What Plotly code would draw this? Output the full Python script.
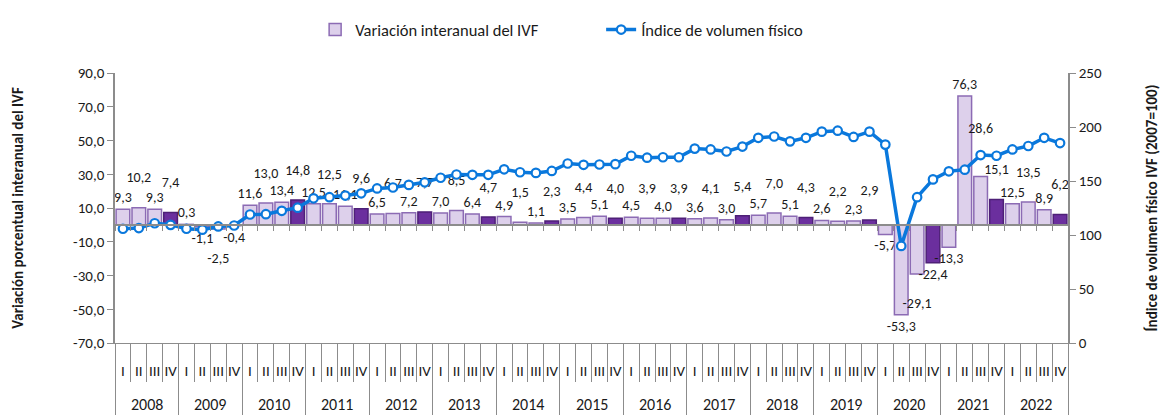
import plotly.graph_objects as go

years = [str(y) for y in range(2008, 2023)]
quarters = ["I", "II", "III", "IV"]

variacion = [
    9.3, 10.2, 9.3, 7.4,
    0.3, -1.1, -2.5, -0.4,
    11.6, 13.0, 13.4, 14.8,
    12.5, 12.5, 11.1, 9.6,
    6.5, 6.7, 7.2, 7.7,
    7.0, 8.5, 6.4, 4.7,
    4.9, 1.5, 1.1, 2.3,
    3.5, 4.4, 5.1, 4.0,
    4.5, 3.9, 4.0, 3.9,
    3.6, 4.1, 3.0, 5.4,
    5.7, 7.0, 5.1, 4.3,
    2.6, 2.2, 2.3, 2.9,
    -5.7, -53.3, -29.1, -22.4,
    -13.3, 76.3, 28.6, 15.1,
    12.5, 13.5, 8.9, 6.2,
]

indice = [
    105.8, 106.4, 110.9, 109.4,
    105.8, 104.9, 107.9, 108.8,
    119.0, 119.3, 122.4, 125.3,
    134.0, 135.0, 136.5, 138.6,
    143.1, 144.0, 146.4, 148.8,
    153.0, 156.0, 155.7, 155.7,
    160.8, 158.1, 157.5, 159.3,
    166.2, 165.0, 165.3, 165.6,
    173.4, 171.6, 172.0, 172.0,
    180.0, 179.2, 177.3, 181.9,
    190.0, 191.2, 186.7, 190.0,
    195.7, 196.6, 190.8, 195.7,
    183.7, 89.9, 135.0, 151.5,
    159.0, 160.5, 174.0, 173.4,
    179.2, 182.4, 190.0, 185.1,
]

left_ticks = [90, 70, 50, 30, 10, -10, -30, -50, -70]
right_ticks = [0, 50, 100, 150, 200, 250]

FONT = "Carlito, Calibri, Lato, sans-serif"

n = len(variacion)
nq = len(quarters)
xpos = list(range(n))
x_q = [q for _ in years for q in quarters]

light_fill, light_line = "#DDD0EB", "#8C6BB4"
dark_fill, dark_line = "#6B2F9E", "#4E2077"
fills = [dark_fill if q == "IV" else light_fill for q in x_q]
lines = [dark_line if q == "IV" else light_line for q in x_q]

# staggered data labels: some labels are pushed further out to limit overlaps
labels = []
for i, v in enumerate(variacion):
    t = f"{v:.1f}".replace(".", ",")
    nxt = variacion[i + 1] if i + 1 < n else 0
    if 20 < v < 50:
        t = t + "<br> <br> "
    elif 0 < v < 50 and i % 2 == 1:
        t = t + "<br> "
    elif -50 < v < 0 and i % 2 == 0 and v < nxt < 0:
        t = " <br>" + t
    labels.append(t)

fig = go.Figure()
fig.add_trace(go.Bar(
    x=xpos, y=variacion,
    name="Variación interanual del IVF",
    marker=dict(color=fills, line=dict(color=lines, width=1.5)),
    text=labels, textposition="outside", cliponaxis=False,
    constraintext="none",
    textfont=dict(family=FONT, size=14, color="#1a1a1a"),
    yaxis="y",
))
fig.add_trace(go.Scatter(
    x=xpos, y=indice,
    name="Índice de volumen físico",
    mode="lines+markers",
    line=dict(color="#0A78DC", width=3.5),
    marker=dict(symbol="circle", size=8.5, color="white",
                line=dict(color="#0A78DC", width=2.2)),
    yaxis="y2",
))
# helper traces so that the overlay axes (tick rows) are drawn
for ax in ("x2", "x3", "x4"):
    fig.add_trace(go.Scatter(x=[None], y=[None], xaxis=ax, yaxis="y",
                             showlegend=False, hoverinfo="skip"))

bounds = [i - 0.5 for i in range(n + 1)]
year_bounds = [i * nq - 0.5 for i in range(len(years) + 1)]
axis_gray = "#8C8C8C"
xr = [-0.5, n - 0.5]

# year labels under the quarter labels
for k, y in enumerate(years):
    fig.add_annotation(x=k * nq + (nq - 1) / 2, y=-0.228, xref="x", yref="paper",
                       text=y, showarrow=False, yanchor="middle",
                       font=dict(family=FONT, size=16, color="#1a1a1a"))

fig.update_layout(
    width=1161, height=415,
    margin=dict(l=115, r=93, t=66, b=72),
    paper_bgcolor="white", plot_bgcolor="white",
    font=dict(family=FONT, size=14, color="#1a1a1a"),
    bargap=0.14,
    showlegend=True,
    legend=dict(orientation="h", x=0.21, xanchor="left", y=1.16, yanchor="middle",
                entrywidth=241, entrywidthmode="pixels",
                font=dict(family=FONT, size=16.5), traceorder="normal"),
    xaxis=dict(
        range=xr, tickvals=xpos, ticktext=x_q, automargin=False,
        showline=True, linecolor=axis_gray, linewidth=1,
        ticks="", ticklabelstandoff=14,
        tickfont=dict(family=FONT, size=15),
        showgrid=False, zeroline=False,
    ),
    xaxis2=dict(
        overlaying="x", anchor="free", position=70 / 160, automargin=False,
        range=xr, tickvals=bounds, showticklabels=False,
        ticks="outside", ticklen=5, tickcolor=axis_gray,
        showline=True, linecolor=axis_gray, linewidth=1.5,
        showgrid=False, zeroline=False,
    ),
    xaxis3=dict(
        overlaying="x", anchor="y", side="bottom", automargin=False,
        range=xr, tickvals=bounds, showticklabels=False,
        ticks="outside", ticklen=38, tickcolor=axis_gray, tickwidth=1,
        showline=False, showgrid=False, zeroline=False,
    ),
    xaxis4=dict(
        overlaying="x", anchor="y", side="bottom", automargin=False,
        range=xr, tickvals=year_bounds, showticklabels=False,
        ticks="outside", ticklen=75, tickcolor=axis_gray, tickwidth=1,
        showline=False, showgrid=False, zeroline=False,
    ),
    yaxis=dict(
        range=[-70, 90], tickvals=left_ticks, automargin=False,
        ticktext=[f"{v:.1f}".replace(".", ",") for v in left_ticks],
        showline=True, linecolor=axis_gray, linewidth=1.5,
        ticks="outside", ticklen=6, tickcolor=axis_gray,
        showgrid=False, zeroline=False,
        tickfont=dict(family=FONT, size=15),
        title=dict(text="<b>Variación porcentual interanual del IVF</b>",
                   font=dict(family=FONT, size=15), standoff=46),
    ),
    yaxis2=dict(
        overlaying="y", side="right", range=[0, 250], tickvals=right_ticks,
        automargin=False,
        showline=True, linecolor=axis_gray, linewidth=1.5,
        ticks="outside", ticklen=6, tickcolor=axis_gray,
        showgrid=False, zeroline=False,
        tickfont=dict(family=FONT, size=15),
        title=dict(text="<b>Índice de volumen físico IVF (2007=100)</b>",
                   font=dict(family=FONT, size=15), standoff=46),
    ),
)

fig.write_html("out.html", config={"displayModeBar": False},
               post_script="document.body.style.margin='0';")
